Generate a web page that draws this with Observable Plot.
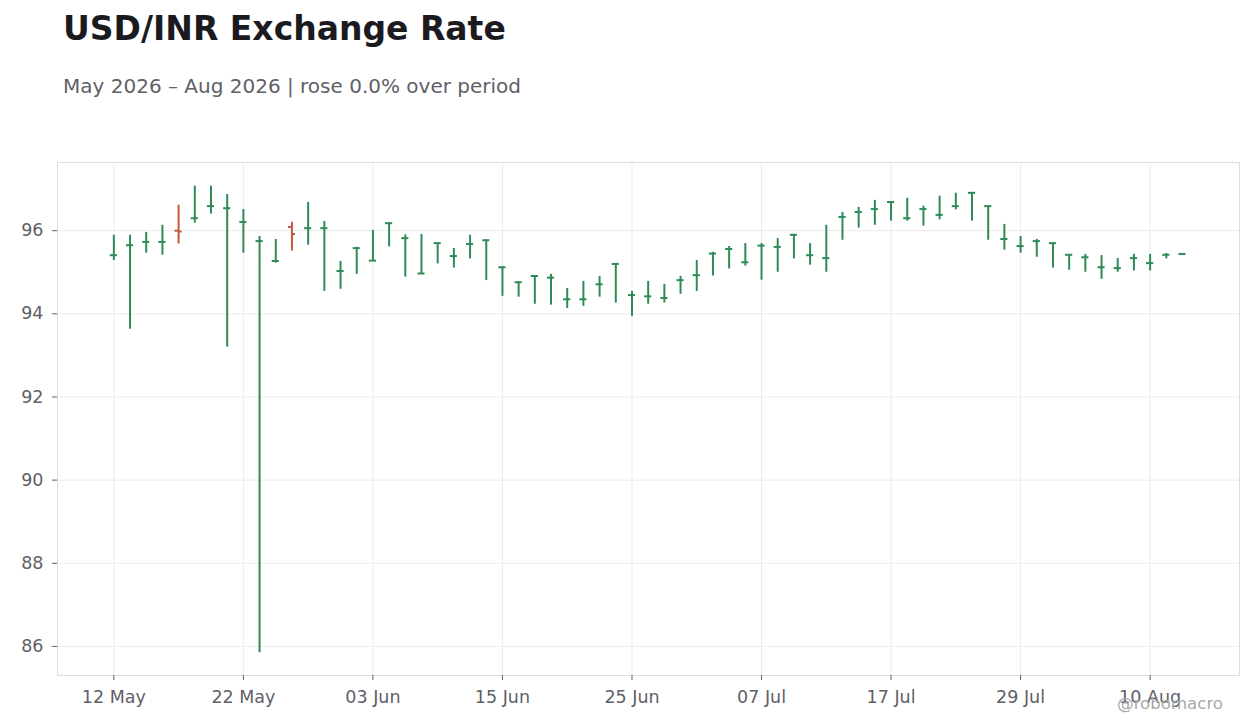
<!DOCTYPE html>
<html>
<head>
<meta charset="utf-8">
<script src="https://cdn.jsdelivr.net/npm/d3@7"></script>
<script src="https://cdn.jsdelivr.net/npm/@observablehq/plot@0.6"></script>
<style>
  html, body { margin: 0; padding: 0; background: #ffffff; }
  body { width: 1260px; height: 728px; position: relative; overflow: hidden; font-family: "DejaVu Sans", sans-serif; }
  #title { position: absolute; left: 63px; top: 12px; font-size: 33px; line-height: 1; font-weight: bold; color: #1b1b1f; white-space: nowrap; }
  #subtitle { position: absolute; left: 63px; top: 75.5px; font-size: 20px; line-height: 1; color: #5f6068; white-space: nowrap; }
  #chart { position: absolute; left: 0; top: 130px; }
  #caption { position: absolute; right: 37px; top: 696px; font-size: 16.6px; line-height: 1; color: #a8a8ae; white-space: nowrap; }
</style>
</head>
<body>
<div id="title">USD/INR Exchange Rate</div>
<div id="subtitle">May 2026 – Aug 2026 | rose 0.0% over period</div>
<div id="chart"></div>
<div id="caption">@robomacro</div>
<script>
// Trading days (weekdays) from 12 May 2026
const startDate = "2026-05-12";
const nBars = 67;

const openV = [95.41,95.65,95.73,95.73,96.00,96.30,96.59,96.54,96.21,95.75,
  95.27,96.09,96.06,96.06,95.03,95.58,95.28,96.18,95.82,94.97,
  95.70,95.39,95.68,95.77,95.12,94.76,94.91,94.87,94.35,94.35,
  94.71,95.20,94.45,94.42,94.38,94.81,94.93,95.45,95.56,95.24,
  95.64,95.61,95.90,95.41,95.34,96.33,96.45,96.52,96.69,96.30,
  96.52,96.38,96.59,96.91,96.59,95.80,95.63,95.75,95.70,95.42,
  95.36,95.12,95.10,95.34,95.22,95.42,95.44];
const highV = [95.89,95.89,95.96,96.13,96.61,97.07,97.07,96.87,96.51,95.86,
  95.79,96.20,96.68,96.22,95.26,95.60,96.01,96.19,95.90,95.91,
  95.71,95.57,95.89,95.78,95.13,94.77,94.92,94.95,94.61,94.78,
  94.90,95.21,94.54,94.78,94.71,94.90,95.28,95.48,95.62,95.69,
  95.69,95.81,95.91,95.69,96.13,96.44,96.56,96.73,96.70,96.78,
  96.59,96.83,96.90,96.92,96.60,96.15,95.86,95.79,95.71,95.43,
  95.43,95.40,95.33,95.43,95.43,95.45,95.44];
const lowV = [95.28,93.63,95.46,95.41,95.68,96.18,96.40,93.20,95.46,85.85,
  95.22,95.51,95.65,94.54,94.59,94.95,95.27,95.61,94.88,94.95,
  95.20,95.10,95.32,94.80,94.42,94.40,94.23,94.21,94.13,94.18,
  94.40,94.26,93.94,94.23,94.26,94.47,94.54,94.91,95.08,95.15,
  94.81,95.00,95.32,95.17,95.00,95.77,96.06,96.13,96.23,96.23,
  96.11,96.26,96.50,96.23,95.77,95.53,95.46,95.36,95.10,95.05,
  95.00,94.83,95.00,95.03,95.03,95.32,95.44];
const closeV = [95.41,95.65,95.73,95.73,95.98,96.30,96.59,96.54,96.21,95.75,
  95.27,95.92,96.06,96.06,95.03,95.58,95.28,96.18,95.82,94.97,
  95.70,95.39,95.68,95.77,95.12,94.76,94.91,94.87,94.35,94.35,
  94.71,95.20,94.45,94.42,94.38,94.81,94.93,95.45,95.56,95.24,
  95.64,95.61,95.90,95.41,95.34,96.33,96.45,96.52,96.69,96.30,
  96.52,96.38,96.59,96.91,96.59,95.80,95.63,95.75,95.70,95.42,
  95.36,95.12,95.10,95.34,95.22,95.42,95.44];

const yTicks = [86, 88, 90, 92, 94, 96];
const xTickEvery = 8;

const UP = "#2e8b57";
const DOWN = "#c8553d";

// build trading-day list
const dates = [];
{
  let d = new Date(startDate + "T00:00:00Z");
  while (dates.length < nBars) {
    const wd = d.getUTCDay();
    if (wd !== 0 && wd !== 6) dates.push(new Date(d));
    d = d3.utcDay.offset(d, 1);
  }
}
const fmt = d3.utcFormat("%d %b");

const data = openV.map((o, i) => ({
  i, date: dates[i], open: o, high: highV[i], low: lowV[i], close: closeV[i]
}));
const xTickIdx = d3.range(0, nBars, xTickEvery);
const half = 0.22;
const col = d => d.close >= d.open ? UP : DOWN;

const chart = Plot.plot({
  width: 1260,
  height: 598,
  marginLeft: 57,
  marginRight: 21,
  marginTop: 32,
  marginBottom: 53,
  style: { fontFamily: "DejaVu Sans", fontSize: "17.5px", color: "#5f6068", background: "#ffffff" },
  x: { type: "linear", domain: [-3.48, 69.52] },
  y: { type: "linear", domain: [85.3, 97.64] },
  marks: [
    Plot.gridX(xTickIdx, { stroke: "#ececec", strokeOpacity: 1 }),
    Plot.gridY(yTicks, { stroke: "#ececec", strokeOpacity: 1 }),
    Plot.frame({ stroke: "#dddddd", strokeOpacity: 1 }),
    Plot.axisX(xTickIdx, { tickFormat: i => fmt(dates[i]), tickSize: 5, tickPadding: 10, label: null, stroke: "#5f6068" }),
    Plot.axisY(yTicks, { tickSize: 5, tickPadding: 9, label: null, stroke: "#5f6068" }),
    Plot.ruleX(data, { x: "i", y1: "low", y2: "high", stroke: col, strokeWidth: 2 }),
    Plot.ruleY(data, { y: "open", x1: d => d.i - half, x2: "i", stroke: col, strokeWidth: 2 }),
    Plot.ruleY(data, { y: "close", x1: "i", x2: d => d.i + half, stroke: col, strokeWidth: 2 })
  ]
});
document.getElementById("chart").appendChild(chart);
</script>
</body>
</html>
